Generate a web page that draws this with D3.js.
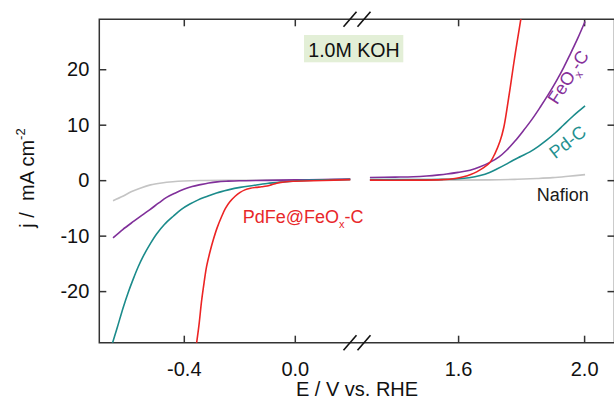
<!DOCTYPE html>
<html>
<head>
<meta charset="utf-8">
<script src="https://cdn.jsdelivr.net/npm/d3@7"></script>
<style>
  body { margin: 0; background: #fff; }
  svg { font-family: "Liberation Sans", Arial, sans-serif; display: block; }
</style>
</head>
<body>
<div id="chart-container"></div>
<script>
// [E (V vs. RHE), j (mA cm-2)], left and right of the axis break
const nafionLeft = [[-0.655,-3.7],[-0.62,-2.9],[-0.59,-2.1],[-0.555,-1.4],[-0.52,-0.85],[-0.48,-0.5],[-0.44,-0.28],[-0.40,-0.15],[-0.34,-0.07],[-0.25,-0.03],[0.0,0.02],[0.2,0.08]];
const nafionRight = [[1.32,0.0],[1.5,0.0],[1.7,0.05],[1.78,0.15],[1.85,0.3],[1.9,0.45],[1.95,0.7],[2.003,1.0]];

const feoxLeft = [[-0.655,-10.4],[-0.62,-8.9],[-0.58,-7.4],[-0.55,-6.3],[-0.522,-5.3],[-0.49,-4.1],[-0.462,-3.1],[-0.43,-2.3],[-0.40,-1.65],[-0.37,-1.15],[-0.34,-0.8],[-0.31,-0.5],[-0.28,-0.3],[-0.24,-0.18],[-0.2,-0.1],[-0.1,-0.03],[0.0,0.05],[0.1,0.12],[0.2,0.2]];
const feoxRight = [[1.32,0.48],[1.40,0.55],[1.458,0.62],[1.50,0.75],[1.54,0.95],[1.564,1.1],[1.60,1.4],[1.638,1.8],[1.67,2.4],[1.701,3.2],[1.73,4.2],[1.754,5.4],[1.78,7.0],[1.807,8.9],[1.835,11.0],[1.86,13.1],[1.887,15.5],[1.913,18.0],[1.935,20.3],[1.955,22.6],[1.98,25.6],[2.003,28.6]];

const pdcLeft = [[-0.662,-30.2],[-0.64,-26.6],[-0.618,-22.9],[-0.60,-20.2],[-0.582,-17.8],[-0.565,-15.7],[-0.546,-13.7],[-0.52,-11.4],[-0.498,-9.7],[-0.47,-8.0],[-0.438,-6.5],[-0.41,-5.3],[-0.378,-4.3],[-0.35,-3.6],[-0.32,-3.0],[-0.282,-2.3],[-0.24,-1.75],[-0.197,-1.3],[-0.15,-0.95],[-0.10,-0.6],[-0.05,-0.35],[0.0,-0.15],[0.1,0.05],[0.2,0.15]];
const pdcRight = [[1.32,0.1],[1.45,0.1],[1.55,0.15],[1.60,0.25],[1.635,0.45],[1.67,0.85],[1.70,1.4],[1.723,2.0],[1.75,2.8],[1.775,3.6],[1.80,4.3],[1.828,5.1],[1.855,6.1],[1.881,7.2],[1.908,8.5],[1.934,9.9],[1.96,11.3],[1.98,12.3],[2.003,13.4]];

const pdfeLeft = [[-0.357,-30.5],[-0.345,-26.0],[-0.336,-21.8],[-0.327,-18.5],[-0.318,-15.6],[-0.306,-13.0],[-0.294,-10.8],[-0.28,-8.6],[-0.264,-6.6],[-0.25,-5.1],[-0.234,-3.9],[-0.215,-2.9],[-0.197,-2.2],[-0.18,-1.75],[-0.16,-1.45],[-0.14,-1.3],[-0.12,-1.2],[-0.10,-1.05],[-0.083,-0.8],[-0.065,-0.55],[-0.05,-0.4],[-0.02,-0.25],[0.0,-0.2],[0.1,-0.05],[0.2,0.1]];
const pdfeRight = [[1.32,0.0],[1.45,0.0],[1.55,0.1],[1.59,0.3],[1.617,0.6],[1.64,1.0],[1.659,1.5],[1.68,2.2],[1.701,3.2],[1.717,4.8],[1.733,7.0],[1.745,9.5],[1.755,12.8],[1.765,16.5],[1.775,20.4],[1.787,24.8],[1.799,29.0],[1.81,33.0]];

const leftTicks = [-0.4, 0.0];
const rightTicks = [1.6, 2.0];
const yTicks = [-20, -10, 0, 10, 20];

createChart();

function createChart() {
    const width = 614, height = 400;
    const left = 99.3, top = 19.3, bottom = 342.7, right = 614.5;
    const axisColor = "#333";

    const svg = d3.select("#chart-container")
        .append("svg")
        .attr("width", width)
        .attr("height", height);

    // two x scales, one for each side of the break
    const xLeft = d3.scaleLinear().domain([-0.7045, 0.2]).range([left, 350.3]);
    const xRight = d3.scaleLinear().domain([1.3, 2.0965]).range([363.6, right]);
    const y = d3.scaleLinear().domain([-29.3, 29.0]).range([bottom, top]);

    svg.append("clipPath").attr("id", "plot-clip")
        .append("rect")
        .attr("x", left).attr("y", top)
        .attr("width", right - left).attr("height", bottom - top);

    // frame
    svg.append("path")
        .attr("d", `M${right},${top}H${left}V${bottom}H${right}V${top}`)
        .attr("fill", "none")
        .attr("stroke", axisColor)
        .attr("stroke-width", 1.5);

    const fmt = d => d.toFixed(1);

    function styleAxis(g) {
        g.select(".domain").remove();
        g.selectAll(".tick line").attr("stroke", axisColor).attr("stroke-width", 1.5);
        g.selectAll(".tick text").attr("fill", "#111").style("font-size", "20px");
    }

    // bottom axes
    svg.append("g").attr("transform", `translate(0,${bottom})`)
        .call(d3.axisBottom(xLeft).tickValues(leftTicks).tickFormat(fmt).tickSizeInner(-7).tickSizeOuter(0).tickPadding(19))
        .call(styleAxis);
    svg.append("g").attr("transform", `translate(0,${bottom})`)
        .call(d3.axisBottom(xRight).tickValues(rightTicks).tickFormat(fmt).tickSizeInner(-7).tickSizeOuter(0).tickPadding(19))
        .call(styleAxis);

    // top axes (ticks only)
    svg.append("g").attr("transform", `translate(0,${top})`)
        .call(d3.axisTop(xLeft).tickValues(leftTicks).tickFormat("").tickSizeInner(-7).tickSizeOuter(0))
        .call(styleAxis);
    svg.append("g").attr("transform", `translate(0,${top})`)
        .call(d3.axisTop(xRight).tickValues(rightTicks).tickFormat("").tickSizeInner(-7).tickSizeOuter(0))
        .call(styleAxis);

    // left and right y axes
    svg.append("g").attr("transform", `translate(${left},0)`)
        .call(d3.axisLeft(y).tickValues(yTicks).tickFormat(d => String(d)).tickSizeInner(-7).tickSizeOuter(0).tickPadding(10))
        .call(styleAxis);
    svg.append("g").attr("transform", `translate(${right},0)`)
        .call(d3.axisRight(y).tickValues(yTicks).tickFormat("").tickSizeInner(-7).tickSizeOuter(0))
        .call(styleAxis);

    // break marks
    [top, bottom].forEach(yy => {
        [350, 364].forEach(xx => {
            svg.append("line")
                .attr("x1", xx - 6.5).attr("y1", yy + 7.5)
                .attr("x2", xx + 6.5).attr("y2", yy - 7.5)
                .attr("stroke", "#111")
                .attr("stroke-width", 1.6);
        });
    });

    // curves
    const series = [
        { l: nafionLeft, r: nafionRight, color: "#c4c4c4" },
        { l: feoxLeft, r: feoxRight, color: "#80309a" },
        { l: pdcLeft, r: pdcRight, color: "#1b8b8b" },
        { l: pdfeLeft, r: pdfeRight, color: "#ec2424" }
    ];
    const curve = d3.curveCatmullRom.alpha(0.5);
    const lineL = d3.line().x(d => xLeft(d[0])).y(d => y(d[1])).curve(curve);
    const lineR = d3.line().x(d => xRight(d[0])).y(d => y(d[1])).curve(curve);

    const plot = svg.append("g").attr("clip-path", "url(#plot-clip)");
    series.forEach(s => {
        plot.append("path").datum(s.l)
            .attr("d", lineL)
            .attr("fill", "none")
            .attr("stroke", s.color)
            .attr("stroke-width", 1.6);
        plot.append("path").datum(s.r)
            .attr("d", lineR)
            .attr("fill", "none")
            .attr("stroke", s.color)
            .attr("stroke-width", 1.6);
    });

    // electrolyte box
    svg.append("rect")
        .attr("x", 304).attr("y", 35)
        .attr("width", 99.3).attr("height", 27.3)
        .attr("fill", "#e3efd7");
    svg.append("text")
        .attr("x", 354).attr("y", 56.7)
        .attr("text-anchor", "middle")
        .attr("fill", "#111")
        .style("font-size", "19.6px")
        .text("1.0M KOH");

    // curve labels
    const red = svg.append("text")
        .attr("x", 242.7).attr("y", 222.7)
        .attr("fill", "#e8272a")
        .style("font-size", "18px");
    red.append("tspan").text("PdFe@FeO");
    red.append("tspan").attr("dy", 5).style("font-size", "11px").text("x");
    red.append("tspan").attr("dy", -5).text("-C");

    const feo = svg.append("text")
        .attr("transform", "translate(568,77) rotate(-57)")
        .attr("text-anchor", "middle")
        .attr("dy", "0.35em")
        .attr("fill", "#86309a")
        .style("font-size", "18px");
    feo.append("tspan").text("FeO");
    feo.append("tspan").attr("dy", 5).style("font-size", "11px").text("x");
    feo.append("tspan").attr("dy", -5).text("-C");

    svg.append("text")
        .attr("transform", "translate(567.5,142) rotate(-38)")
        .attr("text-anchor", "middle")
        .attr("dy", "0.35em")
        .attr("fill", "#1f9090")
        .style("font-size", "18px")
        .text("Pd-C");

    svg.append("text")
        .attr("x", 536.7).attr("y", 201)
        .attr("fill", "#1a1a1a")
        .style("font-size", "18px")
        .text("Nafion");

    // axis titles
    svg.append("text")
        .attr("x", 357).attr("y", 396)
        .attr("text-anchor", "middle")
        .attr("fill", "#111")
        .style("font-size", "20px")
        .text("E / V vs. RHE");

    const yt = svg.append("text")
        .attr("transform", "translate(34,178) rotate(-90)")
        .attr("text-anchor", "middle")
        .attr("fill", "#111")
        .style("font-size", "20px")
        .style("white-space", "pre");
    yt.append("tspan").text("j /  mA cm");
    yt.append("tspan").attr("dy", -9).style("font-size", "13px").text("-2");
}
</script>
</body>
</html>
